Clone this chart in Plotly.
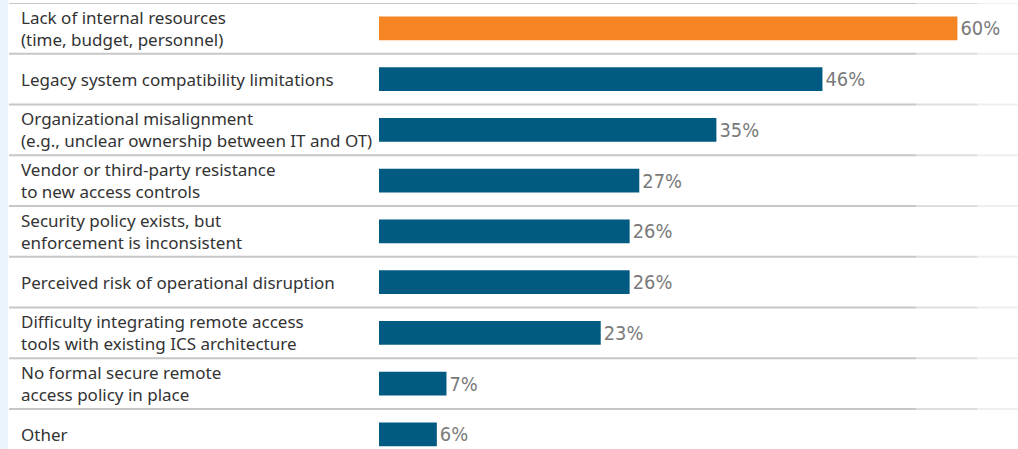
import plotly.graph_objects as go

categories = [
    "Lack of internal resources<br>(time, budget, personnel)",
    "Legacy system compatibility limitations",
    "Organizational misalignment<br>(e.g., unclear ownership between IT and OT)",
    "Vendor or third-party resistance<br>to new access controls",
    "Security policy exists, but<br>enforcement is inconsistent",
    "Perceived risk of operational disruption",
    "Difficulty integrating remote access<br>tools with existing ICS architecture",
    "No formal secure remote<br>access policy in place",
    "Other",
]
values = [60, 46, 35, 27, 26, 26, 23, 7, 6]
value_labels = ["60%", "46%", "35%", "27%", "26%", "26%", "23%", "7%", "6%"]
bar_colors = ["#f58423"] + ["#005a82"] * 8

W, H = 1018, 449
x0_px, x1_px = 379, 1018
ppu = 9.64  # px per percent
xmax = (x1_px - x0_px) / ppu

ypos = list(range(len(categories)))

fig = go.Figure()
fig.add_trace(go.Bar(
    x=values, y=ypos, orientation="h",
    marker=dict(color=bar_colors, line=dict(width=0)),
    width=0.47,
    text=value_labels, textposition="outside",
    textfont=dict(family="Liberation Sans Narrow, DejaVu Sans Condensed, Roboto", size=20, color="#7a7a7a"),
    cliponaxis=False, hoverinfo="skip",
))

shapes = []
# left light strip
shapes.append(dict(type="rect", xref="paper", yref="paper", x0=0, x1=8 / W, y0=-0.05, y1=1.05,
                   fillcolor="#eaf4fb", line=dict(width=0), layer="below"))
# separators
for i in range(len(categories) + 1):
    y = i - 0.5
    segs = [(9 / W, 0.90, 0.75), (0.90, 0.96, 0.45), (0.96, 1.0, 0.2)]
    for a, b, op in segs:
        shapes.append(dict(type="line", xref="paper", yref="y", x0=a, x1=b, y0=y, y1=y,
                           line=dict(color="#b5b5b5", width=2), opacity=op, layer="below"))

annotations = []
for i, c in enumerate(categories):
    annotations.append(dict(xref="paper", yref="y", x=19 / W, y=i, text=c, showarrow=False,
                            xanchor="left", yanchor="middle", align="left",
                            font=dict(family="Noto Sans, Open Sans", size=17, color="#333333")))

plot_h = H - 3
rows_visible = plot_h / 50.75
fig.update_layout(
    width=W, height=H,
    margin=dict(l=0, r=0, t=3, b=0, pad=0),
    paper_bgcolor="white", plot_bgcolor="white",
    showlegend=False,
    xaxis=dict(domain=[x0_px / W, 1], range=[0, xmax], visible=False, fixedrange=True),
    yaxis=dict(range=[rows_visible - 0.5, -0.5], visible=False, fixedrange=True),
    shapes=shapes, annotations=annotations,
)
fig.write_html("out.html", config={"displayModeBar": False},
               post_script="document.body.style.margin='0';document.body.style.overflow='hidden';")
